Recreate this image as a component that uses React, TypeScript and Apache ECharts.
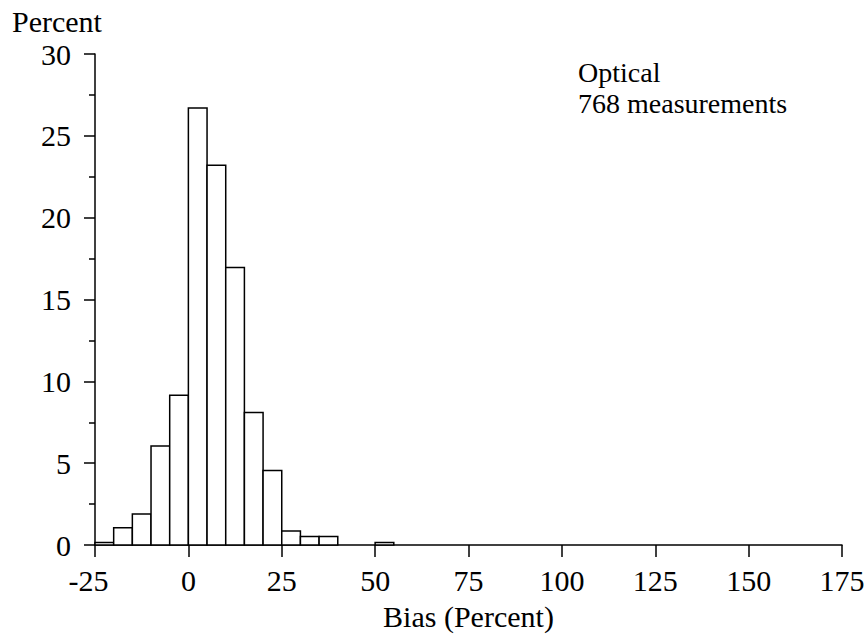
import React, { useEffect, useRef } from "react";
import * as echarts from "echarts";

const binStarts = [-25, -20, -15, -10, -5, 0, 5, 10, 15, 20, 25, 30, 35, 50];
const binWidth = 5;
const percents = [0.15, 1.05, 1.9, 6.05, 9.15, 26.7, 23.2, 16.95, 8.1, 4.55, 0.85, 0.52, 0.52, 0.15];
const xTicks = [-25, 0, 25, 50, 75, 100, 125, 150, 175];
const yTicks = [0, 5, 10, 15, 20, 25, 30];
const noteLines = ["Optical", "768 measurements"];
const FONT = "'Liberation Serif', 'Times New Roman', serif";

export default function App() {
  const ref = useRef<HTMLDivElement>(null);
  useEffect(() => {
    document.body.style.margin = "0";
    const chart = echarts.init(ref.current!, null, { renderer: "svg" });
    const data = binStarts.map((s, i) => [s, s + binWidth, percents[i]]);
    chart.setOption({
      animation: false,
      backgroundColor: "#fff",
      grid: { left: 95, right: 26, top: 54, bottom: 92, containLabel: false },
      xAxis: {
        type: "value",
        min: xTicks[0],
        max: xTicks[xTicks.length - 1],
        interval: 25,
        name: "Bias (Percent)",
        nameLocation: "middle",
        nameGap: 56,
        nameTextStyle: { fontFamily: FONT, fontSize: 30, color: "#000" },
        axisLine: { show: true, onZero: false, lineStyle: { color: "#000", width: 1.5 } },
        axisTick: { show: true, length: 12, lineStyle: { color: "#000", width: 1.5 } },
        splitLine: { show: false },
        axisLabel: {
          margin: 20,
          fontFamily: FONT,
          fontSize: 30,
          color: "#000",
          formatter: (v: number) => (v < 0 ? "{neg|" + v + "}" : String(v)),
          rich: { neg: { fontFamily: FONT, fontSize: 30, color: "#000", padding: [0, 13, 0, 0] } },
        },
      },
      yAxis: {
        type: "value",
        min: yTicks[0],
        max: yTicks[yTicks.length - 1],
        interval: 5,
        axisLine: { show: true, onZero: false, lineStyle: { color: "#000", width: 1.5 } },
        axisTick: { show: true, length: 11, lineStyle: { color: "#000", width: 1.5 } },
        minorTick: { show: true, splitNumber: 2, length: 6, lineStyle: { color: "#000", width: 1.5 } },
        splitLine: { show: false },
        minorSplitLine: { show: false },
        axisLabel: { margin: 24, fontFamily: FONT, fontSize: 30, color: "#000" },
      },
      graphic: [
        {
          type: "text",
          left: 12,
          top: 6,
          style: { text: "Percent", fontFamily: FONT, fontSize: 30, fill: "#000" },
        },
        {
          type: "text",
          left: 578,
          top: 58,
          style: { text: noteLines[0], fontFamily: FONT, fontSize: 28, fill: "#000" },
        },
        {
          type: "text",
          left: 578,
          top: 89,
          style: { text: noteLines[1], fontFamily: FONT, fontSize: 28, fill: "#000" },
        },
      ],
      series: [
        {
          type: "custom",
          data,
          renderItem: (params: any, api: any) => {
            const p0 = api.coord([api.value(0), api.value(2)]);
            const p1 = api.coord([api.value(1), 0]);
            return {
              type: "rect",
              shape: { x: p0[0], y: p0[1], width: p1[0] - p0[0], height: p1[1] - p0[1] },
              style: { fill: "#fff", stroke: "#000", lineWidth: 1.5 },
            };
          },
        },
      ],
    });
    return () => chart.dispose();
  }, []);
  return <div ref={ref} style={{ width: 868, height: 637 }} />;
}
